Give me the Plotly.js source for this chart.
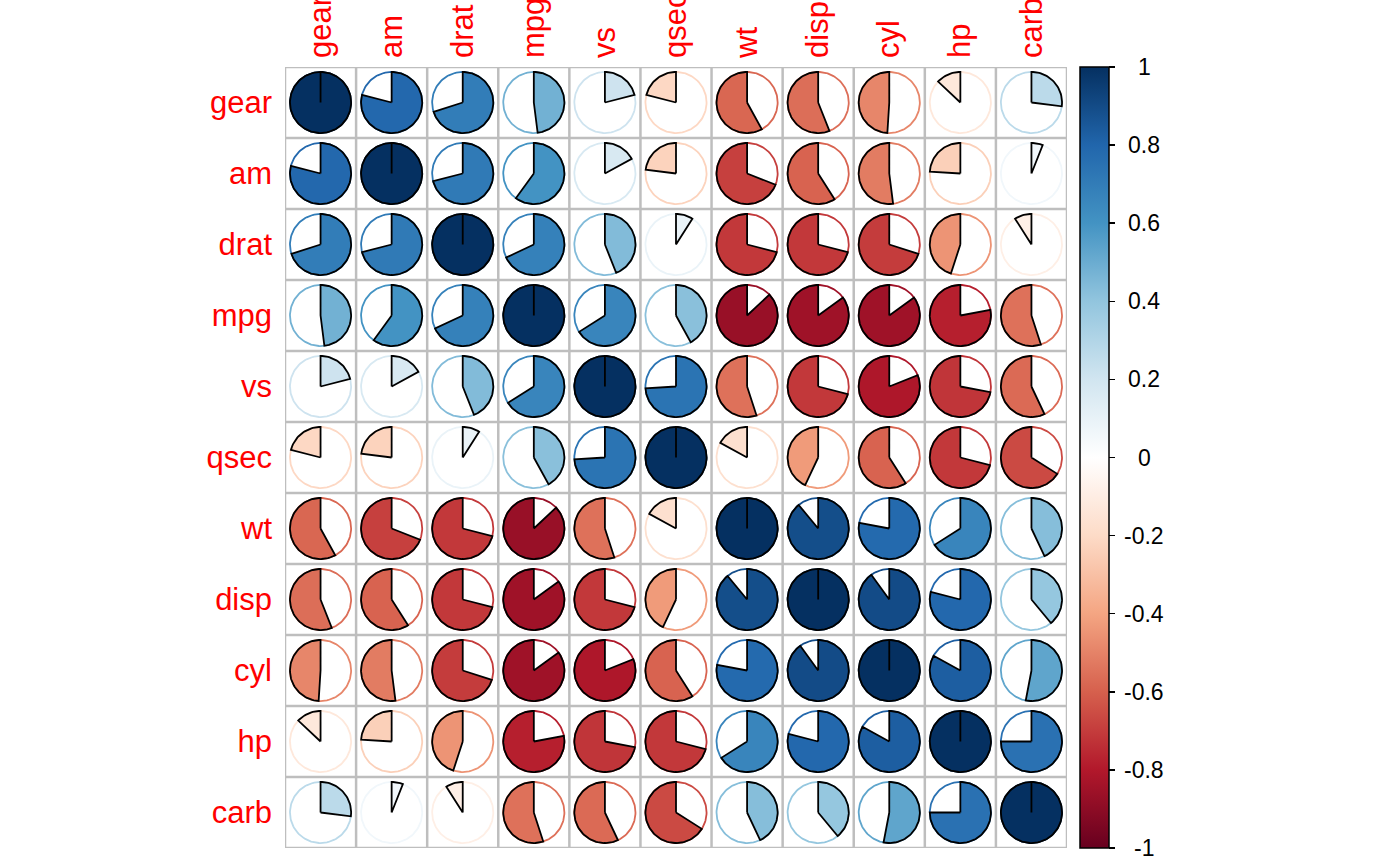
<!DOCTYPE html>
<html>
<head>
<meta charset="utf-8">
<script src="https://cdn.plot.ly/plotly-3.0.1.min.js"></script>
<style>
  html, body { margin: 0; padding: 0; background: #ffffff; }
  #chart { width: 1400px; height: 866px; }
</style>
</head>
<body>
<div id="chart"></div>
<script>
// Variable order (hierarchical clustering order)
const variables = ["gear", "am", "drat", "mpg", "vs", "qsec", "wt", "disp", "cyl", "hp", "carb"];

// Correlation matrix rows, one per variable (same order as columns)
const corGear = [1.00, 0.79, 0.70, 0.48, 0.21, -0.21, -0.58, -0.56, -0.49, -0.13, 0.27];
const corAm   = [0.79, 1.00, 0.71, 0.60, 0.17, -0.23, -0.69, -0.59, -0.52, -0.24, 0.06];
const corDrat = [0.70, 0.71, 1.00, 0.68, 0.44, 0.09, -0.71, -0.71, -0.70, -0.45, -0.09];
const corMpg  = [0.48, 0.60, 0.68, 1.00, 0.66, 0.42, -0.87, -0.85, -0.85, -0.78, -0.55];
const corVs   = [0.21, 0.17, 0.44, 0.66, 1.00, 0.74, -0.55, -0.71, -0.81, -0.72, -0.57];
const corQsec = [-0.21, -0.23, 0.09, 0.42, 0.74, 1.00, -0.17, -0.43, -0.59, -0.71, -0.66];
const corWt   = [-0.58, -0.69, -0.71, -0.87, -0.55, -0.17, 1.00, 0.89, 0.78, 0.66, 0.43];
const corDisp = [-0.56, -0.59, -0.71, -0.85, -0.71, -0.43, 0.89, 1.00, 0.90, 0.79, 0.39];
const corCyl  = [-0.49, -0.52, -0.70, -0.85, -0.81, -0.59, 0.78, 0.90, 1.00, 0.83, 0.53];
const corHp   = [-0.13, -0.24, -0.45, -0.78, -0.72, -0.71, 0.66, 0.79, 0.83, 1.00, 0.75];
const corCarb = [0.27, 0.06, -0.09, -0.55, -0.57, -0.66, 0.43, 0.39, 0.53, 0.75, 1.00];

const corRows = [corGear, corAm, corDrat, corMpg, corVs, corQsec, corWt, corDisp, corCyl, corHp, corCarb];

// Colour bar ticks
const barTickValues = [1, 0.8, 0.6, 0.4, 0.2, 0, -0.2, -0.4, -0.6, -0.8, -1];
const barTickLabels = ["1", "0.8", "0.6", "0.4", "0.2", "0", "-0.2", "-0.4", "-0.6", "-0.8", "-1"];

// RdBu palette (corrplot COL2('RdBu'))
const paletteStops = ["#67001F", "#B2182B", "#D6604D", "#F4A582", "#FDDBC7", "#FFFFFF",
                      "#D1E5F0", "#92C5DE", "#4393C3", "#2166AC", "#053061"];

function hexToRgb(h) {
  return [parseInt(h.slice(1, 3), 16), parseInt(h.slice(3, 5), 16), parseInt(h.slice(5, 7), 16)];
}
function colorFor(v) {
  const t = (v + 1) / 2 * (paletteStops.length - 1);
  const i = Math.min(Math.floor(t), paletteStops.length - 2);
  const f = t - i;
  const a = hexToRgb(paletteStops[i]), b = hexToRgb(paletteStops[i + 1]);
  const c = a.map((x, k) => Math.round(x + (b[k] - x) * f));
  return "rgb(" + c.join(",") + ")";
}

const n = variables.length;
const R = 0.43;
const traces = [];

for (let i = 0; i < n; i++) {
  for (let j = 0; j < n; j++) {
    const r = corRows[i][j];
    const cx = j + 1, cy = i + 1;
    const col = colorFor(r);
    // full circle outline in the correlation colour
    const xs = [], ys = [];
    for (let k = 0; k <= 120; k++) {
      const a = 2 * Math.PI * k / 120;
      xs.push(cx + R * Math.cos(a));
      ys.push(cy - R * Math.sin(a));
    }
    traces.push({
      type: "scatter", mode: "lines", x: xs, y: ys,
      line: { color: col, width: 1.8 }, hoverinfo: "skip", showlegend: false
    });
    // pie sector: from 12 o'clock, clockwise for positive, anticlockwise for negative
    const N = Math.max(2, Math.ceil(Math.abs(r) * 120));
    const px = [cx], py = [cy];
    for (let k = 0; k <= N; k++) {
      const a = Math.PI / 2 - 2 * Math.PI * r * k / N;
      px.push(cx + R * Math.cos(a));
      py.push(cy - R * Math.sin(a));
    }
    px.push(cx); py.push(cy);
    traces.push({
      type: "scatter", mode: "lines", x: px, y: py, fill: "toself", fillcolor: col,
      line: { color: "#000000", width: 1.8 }, hoverinfo: "skip", showlegend: false
    });
  }
}

// colour bar carrier
const cscale = paletteStops.map((c, k) => [k / (paletteStops.length - 1), c]);
traces.push({
  type: "scatter", mode: "markers", x: [1, 1], y: [1, 1],
  marker: {
    color: [-1, 1], cmin: -1, cmax: 1, colorscale: cscale, opacity: 0, size: 1,
    showscale: true,
    colorbar: {
      x: 1.0166, xanchor: "left", xref: "paper", xpad: 0,
      y: 0.5, yanchor: "middle", ypad: 0, len: 1, lenmode: "fraction",
      thickness: 29, thicknessmode: "pixels",
      outlinecolor: "#000000", outlinewidth: 1.5, borderwidth: 0,
      tickmode: "array", tickvals: barTickValues, ticks: "outside",
      ticklen: 6, tickwidth: 1.5, tickcolor: "#000000", showticklabels: false
    }
  },
  hoverinfo: "skip", showlegend: false
});

// grid lines
const shapes = [];
for (let k = 0; k <= n; k++) {
  shapes.push({ type: "line", xref: "x", yref: "y", x0: k + 0.5, x1: k + 0.5, y0: 0.5, y1: n + 0.5,
                line: { color: "#BEBEBE", width: 2.5 }, layer: "below" });
  shapes.push({ type: "line", xref: "x", yref: "y", y0: k + 0.5, y1: k + 0.5, x0: 0.5, x1: n + 0.5,
                line: { color: "#BEBEBE", width: 2.5 }, layer: "below" });
}

// colour bar labels, centred like corrplot
const annotations = barTickValues.map((v, k) => ({
  xref: "paper", yref: "paper", x: 1.0985, y: (v + 1) / 2,
  xanchor: "center", yanchor: "middle", showarrow: false,
  text: barTickLabels[k],
  font: { family: "Liberation Sans, Arial, sans-serif", size: 23, color: "#000000" }
}));

const tickIdx = variables.map((v, k) => k + 1);
const labelFont = { family: "Liberation Sans, Arial, sans-serif", size: 31, color: "#FF0000" };

const layout = {
  width: 1400, height: 866,
  margin: { l: 285, r: 333, t: 67, b: 18, pad: 0 },
  paper_bgcolor: "#ffffff", plot_bgcolor: "#ffffff",
  showlegend: false,
  xaxis: {
    range: [0.5, n + 0.5], side: "top", tickmode: "array", tickvals: tickIdx, ticktext: variables,
    tickangle: -90, tickfont: labelFont, showgrid: false, zeroline: false, showline: false,
    ticks: "", ticklabelstandoff: 8, fixedrange: true
  },
  yaxis: {
    range: [n + 0.5, 0.5], tickmode: "array", tickvals: tickIdx, ticktext: variables,
    tickfont: labelFont, showgrid: false, zeroline: false, showline: false,
    ticks: "", ticklabelstandoff: 12, fixedrange: true
  },
  shapes: shapes,
  annotations: annotations
};

Plotly.newPlot("chart", traces, layout, { displayModeBar: false, staticPlot: true });
</script>
</body>
</html>
